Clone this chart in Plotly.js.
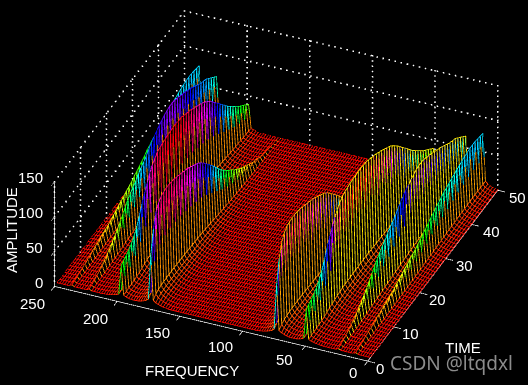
<!DOCTYPE html>
<html><head><meta charset="utf-8">
<script src="https://cdn.plot.ly/plotly-3.0.1.min.js"></script>
<style>html,body{margin:0;padding:0;background:#000;overflow:hidden}#c{width:528px;height:385px}</style>
</head><body><div id="c"></div>
<script>
// Amplitude of each tone at time samples 1..50
const tone12 = [2,3,4,5,6,8,9,10,12,13,14,16,17,18,19,21,23,25,27,29,31,33,35,37,40,42,45,47,50,53,55,58,60,62,65,66,68,70,71,73,74,76,77,78,79,79,79,78,77,76];
const tone25 = [2,3,5,7,9,12,15,18,22,26,30,35,40,46,52,57,61,66,69,74,78,81,85,90,94,98,101,104,107,109,111,112,112,111,109,107,105,103,100,98,95,92,89,86,84,82,78,74,70,66];
const tone50 = [46,49,52,55,59,65,73,84,96,106,116,125,132,137,141,143,144,145,146,146,147,147,146,146,144,142,140,138,135,133,130,127,124,120,115,110,104,98,92,86,80,74,69,64,59,54,50,46,42,38];
const tone75 = [72,105,124,132,137,138,139,139,138,137,135,133,131,129,127,124,121,118,115,111,106,100,94,88,82,75,68,62,56,51,46,42,37,33,29,25,22,19,16,13,11,9,7,5,4,3,2,1,1,0];
const toneBins = [6,13,26,38,89,101,114,121];
const toneValues = [tone12,tone25,tone50,tone75,tone75,tone50,tone25,tone12];
const ridgeColourUntil = [50,27,11,1,50,50,50,50];
const wallShade = [16,22,22,16,14,14,14,14];
const skirt = [0,0.11,0.07,0.05,0.035,0.02,0.012,0.006];
const floorLevel = 0.3;
const binCount = 128, sampleCount = 50, freqMax = 250, colourMax = 148;
const freqTicks = [0,50,100,150,200,250], timeTicks = [0,10,20,30,40,50], ampTicks = [0,50,100,150];
const freqLabelDx = [-15,-21,-22,-22,-22,-22], freqLabelDy = [-11,-13,-15,-16,-17,-17], timeLabelDx = [12,17,18,19,20,20];
const hsvScale = [[0,'#ff0000'],[1/6,'#ffff00'],[2/6,'#00ff00'],[3/6,'#00ffff'],[4/6,'#0000ff'],[5/6,'#ff00ff'],[1,'#ff0000']];

const freq = Array.from({length:binCount},(_,i)=>i*freqMax/(binCount-1));
const time = Array.from({length:sampleCount},(_,j)=>j+1);
const Z = time.map((_,j)=>freq.map((_,i)=>{
  let v = floorLevel;
  toneBins.forEach((b,k)=>{const d=Math.abs(i-b); v += d===0?toneValues[k][j]:(d<skirt.length?skirt[d]*toneValues[k][j]:0);});
  return v;
}));
const lx=[],ly=[],lz=[],lc=[];
function seg3(a,b,c){lx.push(a[0],b[0],null);ly.push(a[1],b[1],null);lz.push(a[2],b[2],null);lc.push(c,c,0);}
const ridgeAt = {}; toneBins.forEach((b,k)=>ridgeAt[b]=k);
for(let i=0;i<binCount;i++){
  const k=ridgeAt[i];
  for(let j=0;j<sampleCount-1;j++){
    let c=Z[j][i];
    if(k!==undefined && time[j]>ridgeColourUntil[k]) c=wallShade[k];
    seg3([time[j],freq[i],Z[j][i]],[time[j+1],freq[i],Z[j+1][i]],c);
  }
}
for(let j=0;j<sampleCount;j++){
  for(let i=0;i<binCount-1;i++){
    const a=[time[j],freq[i],Z[j][i]], b=[time[j],freq[i+1],Z[j][i+1]];
    const k=ridgeAt[i+1];
    if(k!==undefined){
      const f=j%2?0.5:0.78;
      const m=[a[0],a[1]+(b[1]-a[1])*f,a[2]+(b[2]-a[2])*f];
      seg3(a,m,wallShade[k]);
      seg3(m,b,time[j]<=ridgeColourUntil[k]?b[2]:wallShade[k]);
    } else {
      seg3(a,b,Z[j][i]);
    }
  }
}
const mesh={type:'scatter3d',mode:'lines',x:lx,y:ly,z:lz,connectgaps:false,hoverinfo:'skip',showlegend:false,
  line:{width:1.7,color:lc,colorscale:hsvScale,cmin:0,cmax:colourMax,showscale:false}};
const push=0.012, dir=[0.917,0.399,0.7155];
const sheet={type:'surface',x:time.map(t=>t+push*dir[0]/0.944*50),y:freq.map(f=>f+push*dir[1]*250),
  z:freq.map((_,i)=>time.map((_,j)=>Z[j][i]-push*dir[2]/0.386*150)),showscale:false,hoverinfo:'skip',
  colorscale:[[0,'#000'],[1,'#000']],lighting:{ambient:1,diffuse:0,specular:0,fresnel:0,roughness:1}};
const gx=[],gy=[],gz=[];
function dots(a,b,n){for(let i=0;i<=n;i++){const s=i/n;gx.push(a[0]+(b[0]-a[0])*s);gy.push(a[1]+(b[1]-a[1])*s);gz.push(a[2]+(b[2]-a[2])*s);}}
freqTicks.forEach(f=>dots([50,f,0],[50,f,150],20));
timeTicks.forEach(t=>dots([t,250,0],[t,250,150],20));
ampTicks.slice(1).forEach(a=>{dots([50,0,a],[50,250,a],52);dots([0,250,a],[50,250,a],34);});
const grid={type:'scatter3d',mode:'markers',x:gx,y:gy,z:gz,hoverinfo:'skip',showlegend:false,marker:{color:'#fff',size:0.8,symbol:'square',line:{width:0}}};

const tickFont={family:'Liberation Sans, Arial, sans-serif',size:15,color:'#fff'};
const notes=[];
function note(x,y,z,text,dx,dy,anchor){notes.push({x,y,z,text,ax:0,ay:0,showarrow:false,xshift:dx,yshift:dy,font:tickFont,xanchor:anchor||'center',yanchor:'middle'});}
freqTicks.forEach((f,i)=>note(0,f,0,String(f),freqLabelDx[i],freqLabelDy[i]));
timeTicks.forEach((t,i)=>note(t,0,0,String(t),timeLabelDx[i],-7));
ampTicks.forEach(a=>note(0,250,a,String(a),-9,4,'right'));
const base={showgrid:false,zeroline:false,showbackground:false,showticklabels:false,showspikes:false,
  showline:true,linecolor:'#fff',linewidth:1.5,ticks:'outside',tickcolor:'#fff',ticklen:8,tickwidth:1.5,title:{text:''}};
const k=3, C=[-0.0434,0.0499,-0.0269];
const layout={width:528,height:385,margin:{l:0,r:0,t:0,b:0},paper_bgcolor:'#000',showlegend:false,
  scene:{domain:{x:[0,1],y:[0,1]},bgcolor:'#000',aspectmode:'manual',aspectratio:{x:1.723,y:1.769,z:0.656},
    camera:{projection:{type:'orthographic'},up:{x:0,y:0,z:1},center:{x:C[0],y:C[1],z:C[2]},eye:{x:-0.92*k+C[0],y:-0.392*k+C[1],z:0.676*k+C[2]}},
    xaxis:{...base,range:[0,50],tickvals:timeTicks},
    yaxis:{...base,range:[0,250],tickvals:freqTicks},
    zaxis:{...base,range:[0,150],tickvals:ampTicks},
    annotations:notes},
  annotations:[
   {xref:'paper',yref:'paper',x:451/528,y:1-363/385,text:'CSDN @ltqdxl',showarrow:false,xanchor:'center',yanchor:'middle',font:{family:'Noto Sans',size:19,color:'#8c8c8c'}},
   {xref:'paper',yref:'paper',x:192/528,y:1-370/385,text:'FREQUENCY',showarrow:false,xanchor:'center',yanchor:'middle',font:tickFont},
   {xref:'paper',yref:'paper',x:463/528,y:1-347/385,text:'TIME',showarrow:false,xanchor:'center',yanchor:'middle',font:tickFont},
   {xref:'paper',yref:'paper',x:11/528,y:1-230/385,text:'AMPLITUDE',textangle:-90,showarrow:false,xanchor:'center',yanchor:'middle',font:tickFont}
  ]};
Plotly.newPlot('c',[sheet,mesh,grid],layout,{displayModeBar:false,plotGlPixelRatio:1});
</script></body></html>
